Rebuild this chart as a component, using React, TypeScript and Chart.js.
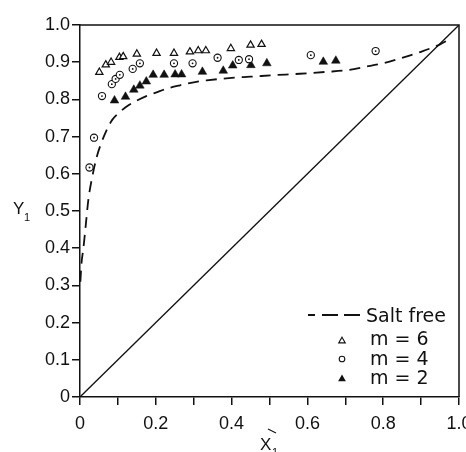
import React, { useEffect, useRef } from "react";
import { Chart, registerables } from "chart.js";

Chart.register(...registerables);

// ---- data ----
const saltFreeX = [0.001, 0.004, 0.009, 0.015, 0.022, 0.032, 0.044, 0.057, 0.07, 0.085, 0.106, 0.128, 0.15, 0.175, 0.202, 0.233, 0.264, 0.3, 0.334, 0.4, 0.45, 0.51, 0.58, 0.65, 0.7, 0.755, 0.8, 0.845, 0.9, 0.95, 0.975];
const saltFreeY = [0.31, 0.36, 0.4, 0.46, 0.53, 0.59, 0.645, 0.685, 0.717, 0.745, 0.767, 0.784, 0.797, 0.809, 0.819, 0.83, 0.838, 0.846, 0.851, 0.858, 0.861, 0.865, 0.869, 0.874, 0.878, 0.888, 0.897, 0.91, 0.928, 0.948, 0.962];

const diagX = [0, 1];
const diagY = [0, 1];

const m6X = [0.051, 0.068, 0.082, 0.104, 0.114, 0.15, 0.202, 0.248, 0.29, 0.312, 0.332, 0.398, 0.45, 0.479];
const m6Y = [0.873, 0.893, 0.9, 0.913, 0.915, 0.922, 0.924, 0.924, 0.928, 0.931, 0.931, 0.937, 0.946, 0.948];

const m4X = [0.025, 0.037, 0.058, 0.084, 0.094, 0.105, 0.139, 0.158, 0.248, 0.297, 0.363, 0.419, 0.446, 0.609, 0.78];
const m4Y = [0.617, 0.697, 0.809, 0.841, 0.855, 0.866, 0.882, 0.897, 0.897, 0.897, 0.912, 0.906, 0.908, 0.919, 0.93];

const m2X = [0.091, 0.12, 0.142, 0.158, 0.175, 0.193, 0.222, 0.251, 0.268, 0.323, 0.378, 0.403, 0.451, 0.493, 0.642, 0.675];
const m2Y = [0.797, 0.807, 0.826, 0.837, 0.848, 0.866, 0.866, 0.867, 0.867, 0.874, 0.877, 0.891, 0.892, 0.897, 0.901, 0.904];

const xTickLabels = ["0", "", "0.2", "", "0.4", "", "0.6", "", "0.8", "", "1.0"];
const yTickLabels = ["0", "0.1", "0.2", "0.3", "0.4", "0.5", "0.6", "0.7", "0.8", "0.9", "1.0"];

const legendLabels = ["Salt free", "m = 6", "m = 4", "m = 2"];
const yTitle = ["Y", "1"];
const xTitle = ["X", "1"];

const zip = (xs: number[], ys: number[]) => xs.map((x, i) => ({ x, y: ys[i] }));

const INK = "#111";

const overlayPlugin = {
  id: "overlay",
  afterDraw(chart: any) {
    const { ctx, chartArea } = chart;
    const { left, top, right, bottom } = chartArea;
    ctx.save();
    // top and right frame
    ctx.strokeStyle = INK;
    ctx.lineWidth = 1.5;
    ctx.setLineDash([]);
    ctx.beginPath();
    ctx.moveTo(left, top);
    ctx.lineTo(right, top);
    ctx.lineTo(right, bottom);
    ctx.stroke();

    // legend
    ctx.fillStyle = INK;
    ctx.lineWidth = 1.8;
    ctx.beginPath();
    [[308, 315], [322, 338], [344, 360]].forEach(([a, b]) => {
      ctx.moveTo(a, 315);
      ctx.lineTo(b, 315);
    });
    ctx.stroke();
    ctx.font = '19px "DejaVu Sans"';
    ctx.textBaseline = "alphabetic";
    ctx.textAlign = "left";
    ctx.fillText(legendLabels[0], 366, 322);
    ctx.fillText(legendLabels[1], 370, 345);
    ctx.fillText(legendLabels[2], 370, 365);
    ctx.fillText(legendLabels[3], 370, 384);

    // legend markers
    ctx.lineWidth = 1.1;
    const tri = (cx: number, cy: number, r: number, fill: boolean) => {
      ctx.beginPath();
      for (let k = 0; k < 3; k++) {
        const a = (k * 2 * Math.PI) / 3;
        const px = cx + Math.sin(a) * r;
        const py = cy - Math.cos(a) * r;
        if (k === 0) ctx.moveTo(px, py);
        else ctx.lineTo(px, py);
      }
      ctx.closePath();
      if (fill) ctx.fill();
      else ctx.stroke();
    };
    tri(342, 341, 3.8, false);
    ctx.beginPath();
    ctx.arc(342, 359, 2.8, 0, Math.PI * 2);
    ctx.stroke();
    tri(342, 379, 4.5, true);

    // axis titles
    ctx.font = '17px "Liberation Sans"';
    ctx.fillText(yTitle[0], 13, 214);
    ctx.font = '11px "Liberation Sans"';
    ctx.fillText(yTitle[1], 24, 221);
    ctx.font = '17px "Liberation Sans"';
    ctx.fillText(xTitle[0], 260, 450);
    ctx.font = '11px "Liberation Sans"';
    ctx.fillText(xTitle[1], 272, 456);
    ctx.lineWidth = 1.2;
    ctx.beginPath();
    ctx.moveTo(268, 429);
    ctx.lineTo(276, 433);
    ctx.stroke();
    ctx.restore();
  },
};

export default function App() {
  const ref = useRef<HTMLCanvasElement | null>(null);
  useEffect(() => {
    document.body.style.margin = "0";
    const canvas = ref.current;
    if (!canvas) return;
    const chart = new Chart(canvas, {
      type: "scatter",
      data: {
        datasets: [
          {
            label: "m = 4 dot",
            data: zip(m4X, m4Y),
            pointStyle: "circle",
            pointRadius: 0.9,
            backgroundColor: INK,
            borderWidth: 0,
          },
          {
            label: "m = 4",
            data: zip(m4X, m4Y),
            pointStyle: "circle",
            pointRadius: 3.6,
            backgroundColor: "#fff",
            borderColor: INK,
            borderWidth: 1.1,
          },
          {
            label: "m = 6",
            data: zip(m6X, m6Y),
            pointStyle: "triangle",
            pointRadius: 4.2,
            backgroundColor: "#fff",
            borderColor: INK,
            borderWidth: 1.2,
          },
          {
            label: "m = 2",
            data: zip(m2X, m2Y),
            pointStyle: "triangle",
            pointRadius: 5,
            backgroundColor: INK,
            borderColor: INK,
            borderWidth: 0.5,
          },
          {
            label: "Salt free",
            data: zip(saltFreeX, saltFreeY),
            showLine: true,
            pointRadius: 0,
            borderColor: INK,
            borderWidth: 1.8,
            borderDash: [11, 7],
            cubicInterpolationMode: "monotone",
            fill: false,
          },
          {
            label: "diagonal",
            data: zip(diagX, diagY),
            showLine: true,
            pointRadius: 0,
            borderColor: INK,
            borderWidth: 1.3,
            fill: false,
          },
        ],
      },
      options: {
        animation: false,
        responsive: false,
        events: [],
        layout: { padding: { top: 25, right: 7, left: 0, bottom: 0 } },
        plugins: { legend: { display: false }, tooltip: { enabled: false } },
        scales: {
          x: {
            type: "linear",
            min: 0,
            max: 1,
            afterFit: (s: any) => {
              s.height = 55;
              s.paddingLeft = 0;
              s.paddingRight = 0;
            },
            ticks: {
              stepSize: 0.1,
              autoSkip: false,
              maxRotation: 0,
              padding: 8,
              color: INK,
              font: { family: "Liberation Sans", size: 18 },
              callback: (_v: any, i: number) => xTickLabels[i],
            },
            grid: { drawOnChartArea: false, drawTicks: true, tickLength: 8, color: INK, lineWidth: 1.5 },
            border: { display: true, color: INK, width: 1.5 },
          },
          y: {
            type: "linear",
            min: 0,
            max: 1,
            afterFit: (s: any) => {
              s.width = 80;
              s.paddingTop = 0;
              s.paddingBottom = 0;
            },
            ticks: {
              stepSize: 0.1,
              autoSkip: false,
              padding: 2,
              color: INK,
              font: { family: "Liberation Sans", size: 18 },
              callback: (_v: any, i: number) => yTickLabels[i],
            },
            grid: { drawOnChartArea: false, drawTicks: true, tickLength: 8, color: INK, lineWidth: 1.5 },
            border: { display: true, color: INK, width: 1.5 },
          },
        },
      },
      plugins: [overlayPlugin],
    } as any);
    return () => chart.destroy();
  }, []);
  return <canvas ref={ref} width={466} height={452} style={{ display: "block" }} />;
}
